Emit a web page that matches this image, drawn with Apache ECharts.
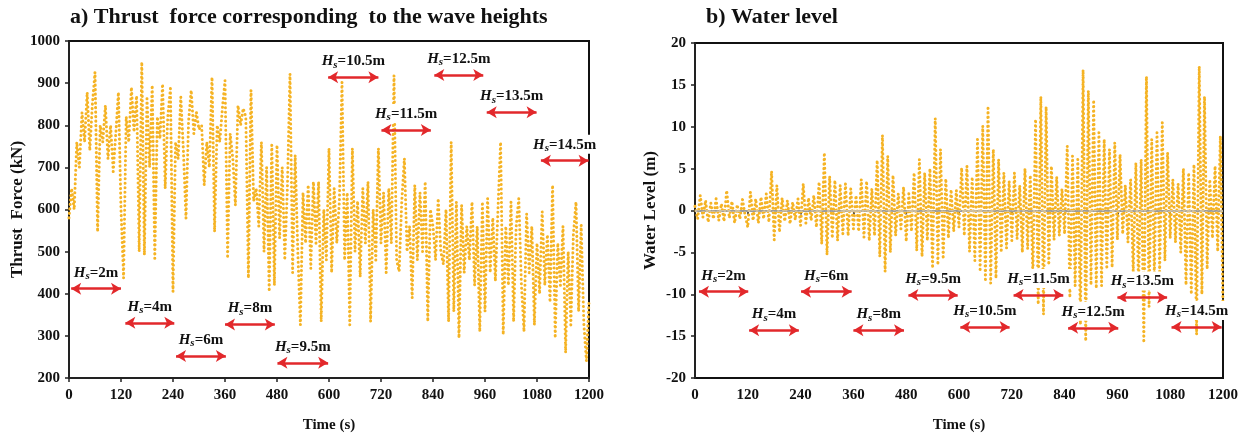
<!DOCTYPE html>
<html>
<head>
<meta charset="utf-8">
<script src="https://cdn.jsdelivr.net/npm/echarts@6/dist/echarts.min.js"></script>
<style>
  html, body { margin: 0; padding: 0; background: #ffffff; }
  #chart { width: 1248px; height: 438px; }
</style>
</head>
<body>
<div id="chart"></div>
<script>
// Sampling interval of both records (s)
const sampleStep = 6;

// a) Rotor thrust force (kN), one value per sample, t = 0 … 1200 s
const thrustKN = [
  580, 650, 600, 760, 700, 830, 760, 878, 740, 850, 926, 547, 800, 760, 847, 720, 800, 690, 780, 878,
  600, 437, 820, 760, 890, 784, 870, 500, 950, 492, 863, 700, 895, 484, 820, 768, 898, 650, 820, 887,
  405, 760, 720, 867, 740, 579, 810, 883, 780, 831, 790, 800, 658, 760, 700, 914, 547, 800, 760, 840,
  906, 484, 780, 720, 610, 847, 800, 840, 820, 437, 883, 620, 650, 560, 760, 500, 700, 405, 753, 420,
  753, 532, 700, 480, 650, 922, 450, 729, 500, 326, 640, 520, 658, 460, 666, 520, 666, 334, 600, 480,
  745, 450, 650, 520, 620, 902, 480, 640, 326, 745, 500, 620, 440, 650, 520, 666, 334, 600, 480, 745,
  520, 640, 450, 650, 520, 918, 480, 453, 620, 721, 500, 560, 390, 658, 480, 640, 500, 666, 334, 600,
  560, 480, 626, 500, 470, 600, 334, 760, 358, 618, 295, 610, 450, 560, 480, 618, 420, 560, 310, 618,
  358, 626, 450, 580, 430, 600, 760, 303, 560, 420, 618, 334, 560, 626, 420, 310, 590, 450, 560, 326,
  520, 400, 595, 420, 540, 380, 658, 295, 520, 420, 560, 260, 500, 326, 540, 618, 358, 563, 330, 240,
  380
];

// b) Water surface elevation (m), same sampling
const waterLevelM = [
  0.5, -1.0, 1.8, -0.8, 1.2, -1.4, 0.9, -1.0, 1.4, -1.2, 0.8, -1.3, 2.4, -0.9, 1.1, -1.5, 0.7, -1.0, 1.3, -0.6,
  -2.0, 2.2, -1.2, 1.4, -1.5, 1.6, -1.0, 2.0, -1.4, 4.7, -3.5, 3.0, -2.6, 1.5, -1.3, 1.2, -1.6, 1.0, -1.1, 1.4,
  -1.8, 3.2, -1.5, 1.5, -1.2, 1.8, -2.0, 3.4, -4.0, 6.9, -5.3, 4.1, -3.3, 3.6, -3.6, 3.0, -2.8, 3.2, -3.0, 2.6,
  -2.2, 1.8, -2.5, 3.7, -3.2, 3.5, -3.6, 2.6, -3.0, 6.0, -5.5, 9.0, -7.3, 6.5, -5.0, 4.2, -3.0, 2.0, -2.2, 2.8,
  -3.7, 2.0, -2.5, 4.5, -4.8, 6.1, -5.5, 4.5, -3.6, 5.0, -6.9, 11.0, -6.5, 7.3, -5.8, 3.8, -3.3, 2.5, -2.5, 2.4,
  -2.0, 5.1, -3.0, 5.3, -4.9, 4.0, -6.0, 8.5, -7.3, 10.1, -8.5, 12.2, -8.7, 7.3, -8.1, 6.1, -5.0, 4.5, -4.5, 3.5,
  -3.6, 4.5, -3.4, 3.0, -5.0, 5.0, -4.6, 4.2, -8.0, 10.9, -11.2, 13.6, -12.4, 12.4, -6.5, 5.3, -3.5, 4.0, -3.0, 2.6,
  -2.8, 7.7, -10.4, 6.5, -9.0, 6.1, -13.6, 16.8, -15.6, 14.3, -8.9, 13.2, -9.3, 9.3, -9.0, 8.5, -7.0, 7.3, -6.8, 8.1,
  -3.5, 6.7, -2.8, 3.0, -3.8, 3.7, -7.5, 5.7, -9.0, 6.1, -15.8, 16.0, -11.5, 8.5, -8.0, 9.3, -7.3, 10.5, -6.0, 6.9,
  -3.3, 3.7, -3.8, 3.2, -5.0, 5.0, -8.9, 4.5, -10.0, 5.5, -14.8, 17.2, -10.0, 13.6, -7.0, 3.7, -3.3, 5.3, -4.9, 8.9,
  -12.0
];

// Significant wave height of each 120 s stage (m)
const waveHeights = ['2', '4', '6', '8', '9.5', '10.5', '11.5', '12.5', '13.5', '14.5'];

// Stage arrows: time span (s) and vertical level in each panel's units
const thrustArrowSpans = [[5, 120], [130, 243], [247, 362], [360, 475], [481, 598], [598, 714], [721, 835], [843, 956], [964, 1079], [1089, 1199]];
const thrustArrowLevels = [412, 331, 252, 327, 236, 914, 789, 919, 831, 716];
const levelArrowSpans = [[9, 121], [123, 236], [241, 356], [360, 475], [485, 597], [603, 715], [724, 837], [848, 962], [960, 1073], [1083, 1197]];
const levelArrowLevels = [-9.7, -14.3, -9.7, -14.3, -10.1, -13.9, -10.1, -14.0, -10.4, -13.9];

const timeTickStep = 120;

const serif = "'Liberation Serif', 'Times New Roman', serif";
const dotColor = '#F5B324';
const arrowColor = '#E2282B';

function pairs(values) {
  return values.map((v, i) => [i * sampleStep, v]);
}

function stageArrows(spans, levels) {
  return spans.map((s, i) => [
    { name: waveHeights[i], coord: [s[0], levels[i]] },
    { coord: [s[1], levels[i]] }
  ]);
}

const tickLabel = { color: '#111', fontFamily: serif, fontWeight: 'bold', fontSize: 15, formatter: v => String(v) };
const xName = { color: '#111', fontFamily: serif, fontWeight: 'bold', fontSize: 15 };
const yName = { color: '#111', fontFamily: serif, fontWeight: 'bold', fontSize: 17 };

function xAxisFor(gridIndex) {
  return {
    type: 'value', gridIndex: gridIndex, min: 0, max: 1200, interval: timeTickStep,
    name: 'Time (s)', nameLocation: 'middle', nameGap: 40, nameTextStyle: xName,
    axisLine: { show: true, lineStyle: { color: '#222', width: 2 } },
    axisTick: { show: true, inside: false, length: 4, lineStyle: { color: '#222', width: 1.5 } },
    axisLabel: Object.assign({ margin: 10 }, tickLabel),
    splitLine: { show: false }
  };
}

function yAxisFor(gridIndex, min, max, interval, name, gap) {
  return {
    type: 'value', gridIndex: gridIndex, min: min, max: max, interval: interval,
    name: name, nameLocation: 'middle', nameGap: gap, nameTextStyle: yName,
    axisLine: { show: true, lineStyle: { color: '#222', width: 2 } },
    axisTick: { show: true, inside: false, length: 4, lineStyle: { color: '#222', width: 1.5 } },
    axisLabel: Object.assign({ margin: 9 }, tickLabel),
    splitLine: { show: false }
  };
}

const dottedLine = {
  color: dotColor, width: 3, type: [0.1, 4.4], cap: 'round', join: 'round'
};

const stageLabel = {
  show: true,
  position: 'insideMiddleTop',
  distance: 7,
  backgroundColor: '#ffffff',
  padding: [1, 3, 0, 3],
  formatter: p => '{h|H}{s|s}{v|=' + p.name + 'm}',
  rich: {
    h: { fontFamily: serif, fontWeight: 'bold', fontStyle: 'italic', fontSize: 15, color: '#111', lineHeight: 18 },
    s: { fontFamily: serif, fontWeight: 'bold', fontStyle: 'italic', fontSize: 11, color: '#111', lineHeight: 6, verticalAlign: 'bottom' },
    v: { fontFamily: serif, fontWeight: 'bold', fontSize: 15, color: '#111', lineHeight: 18 }
  }
};

function arrowSeries(xIdx, yIdx, spans, levels) {
  return {
    type: 'line', xAxisIndex: xIdx, yAxisIndex: yIdx, data: [], z: 10, clip: false,
    silent: true, animation: false,
    markLine: {
      silent: true, animation: false,
      symbol: ['arrow', 'arrow'], symbolSize: [9, 10],
      lineStyle: { color: arrowColor, width: 2.5, type: 'solid' },
      label: stageLabel,
      emphasis: { disabled: true },
      data: stageArrows(spans, levels)
    }
  };
}

const titleText = { fontFamily: serif, fontWeight: 'bold', fontSize: 22, color: '#111' };

const chart = echarts.init(document.getElementById('chart'), null, { renderer: 'canvas' });

chart.setOption({
  animation: false,
  backgroundColor: '#ffffff',
  title: [
    { text: 'a) Thrust  force corresponding  to the wave heights', left: 70, top: 6, padding: 0, textStyle: titleText },
    { text: 'b) Water level', left: 706, top: 6, padding: 0, textStyle: titleText }
  ],
  grid: [
    { left: 69, top: 41, width: 520, height: 337, show: true, borderColor: '#111', borderWidth: 2, backgroundColor: 'transparent' },
    { left: 695, top: 43, width: 528, height: 338, show: true, borderColor: '#111', borderWidth: 2, backgroundColor: 'transparent' }
  ],
  xAxis: [xAxisFor(0), xAxisFor(1)],
  yAxis: [
    yAxisFor(0, 200, 1000, 100, 'Thrust  Force (kN)', 42),
    yAxisFor(1, -20, 20, 5, 'Water Level (m)', 36)
  ],
  series: [
    {
      name: 'Thrust force', type: 'line', xAxisIndex: 0, yAxisIndex: 0,
      data: pairs(thrustKN), showSymbol: false, lineStyle: dottedLine, z: 3
    },
    {
      type: 'line', xAxisIndex: 1, yAxisIndex: 1, data: [], z: 1, silent: true,
      markLine: {
        silent: true, symbol: ['none', 'none'], animation: false,
        lineStyle: { color: '#c4c4c4', width: 1.5, type: 'solid' },
        label: { show: false },
        data: [{ yAxis: 0 }]
      }
    },
    {
      name: 'Water level', type: 'line', xAxisIndex: 1, yAxisIndex: 1,
      data: pairs(waterLevelM), showSymbol: false, lineStyle: dottedLine, z: 3
    },
    arrowSeries(0, 0, thrustArrowSpans, thrustArrowLevels),
    arrowSeries(1, 1, levelArrowSpans, levelArrowLevels)
  ]
});
</script>
</body>
</html>
